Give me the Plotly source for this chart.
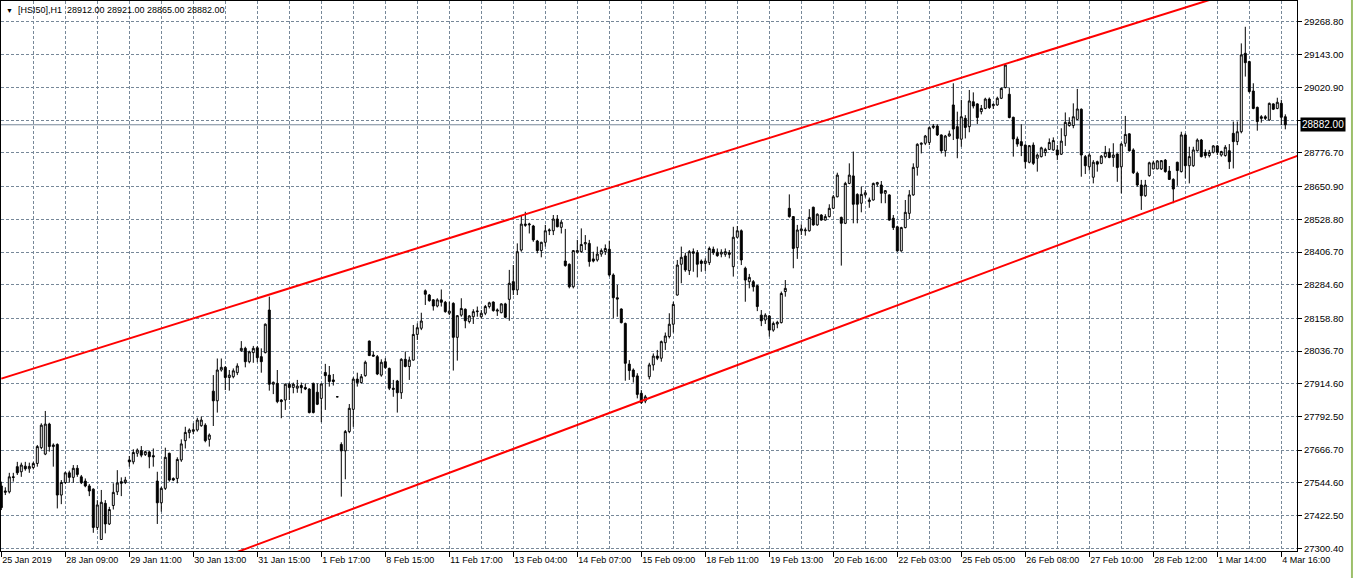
import plotly.graph_objects as go

# ---- data (bar index, OHLC) ----
open_ = [27533,27509,27511,27567,27605,27586,27607,27597,27602,27617,27676,27652,27764,27680,27688,27499,27546,27582,27565,27599,
27567,27551,27533,27521,27378,27333,27468,27391,27460,27511,27549,27546,27630,27623,27655,27665,27650,27660,27646,27551,
27470,27524,27655,27561,27561,27630,27702,27732,27737,27742,27758,27760,27707,27887,27851,27966,27976,27938,27941,27956,
28038,28047,27997,28031,28049,28016,28031,28190,27913,27916,27854,27854,27913,27901,27898,27908,27901,27895,27916,27883,
27860,27957,27947,27929,27866,27688,27664,27736,27819,27932,27919,27945,28074,28022,28016,27947,27997,27972,27898,27925,
27881,28006,27979,28003,28099,28122,28262,28246,28228,28205,28228,28219,28178,28215,28088,28171,28193,28147,28165,28184,
28165,28178,28203,28220,28186,28180,28213,28230,28296,28265,28414,28506,28508,28504,28448,28412,28443,28486,28486,28530,
28499,28373,28361,28277,28406,28408,28437,28439,28381,28377,28399,28408,28417,28321,28236,28194,28140,27988,27966,27944,
27879,27850,27941,27985,28018,28010,28068,28091,28137,28246,28361,28392,28337,28408,28404,28373,28364,28367,28417,28406,
28399,28398,28404,28352,28462,28486,28346,28296,28296,28281,28171,28153,28168,28115,28138,28143,28259,28570,28539,28423,
28486,28486,28486,28574,28508,28545,28526,28539,28570,28613,28536,28514,28663,28691,28622,28589,28620,28595,28601,28660,
28657,28626,28620,28533,28501,28411,28498,28551,28620,28723,28809,28813,28816,28872,28877,28844,28785,28840,28956,28875,
28828,28906,28875,28968,28960,28931,28943,28978,28953,28956,28981,29021,28996,28910,28829,28819,28806,28742,28806,28757,
28763,28778,28790,28788,28788,28772,28841,28879,28879,28902,28940,28763,28725,28686,28744,28738,28763,28779,28760,28773,
28725,28813,28848,28788,28701,28657,28617,28692,28717,28717,28717,28750,28709,28678,28742,28707,28844,28729,28729,28785,
28825,28779,28767,28779,28803,28769,28767,28785,28850,28819,28856,29149,29118,29008,28947,28912,28912,28900,28960,28943,
28962,28912]
high = [27549,27528,27582,27582,27623,27620,27623,27620,27623,27686,27767,27813,27769,27692,27692,27555,27586,27590,27611,27611,
27574,27561,27540,27524,27480,27518,27480,27455,27543,27592,27565,27567,27645,27670,27673,27682,27665,27665,27673,27586,
27530,27676,27657,27565,27640,27707,27754,27748,27767,27788,27792,27767,27729,27947,28009,28009,27981,27966,27972,27991,
28074,28053,28038,28056,28056,28047,28140,28240,27923,27966,27857,27916,27919,27919,27929,27919,27916,27898,27919,27916,
27916,27989,27981,27951,27868,27696,27742,27839,27939,27956,27951,28001,28076,28035,28022,28006,28010,27975,27929,27929,
28010,28035,28016,28134,28140,28180,28267,28250,28231,28234,28267,28224,28221,28219,28171,28234,28196,28171,28193,28203,
28190,28209,28221,28222,28196,28215,28217,28340,28358,28439,28545,28557,28516,28508,28452,28445,28508,28495,28545,28545,
28526,28493,28364,28414,28452,28495,28470,28452,28408,28427,28420,28435,28449,28327,28284,28196,28143,28003,27972,27954,
27891,27873,27993,28028,28041,28076,28106,28178,28221,28377,28427,28404,28414,28420,28414,28379,28383,28427,28427,28420,
28417,28420,28414,28501,28504,28491,28352,28325,28302,28284,28190,28178,28171,28147,28150,28259,28302,28622,28541,28508,
28510,28498,28567,28576,28551,28548,28548,28585,28620,28703,28539,28669,28738,28782,28626,28651,28638,28610,28666,28669,
28672,28638,28622,28545,28505,28501,28601,28638,28738,28813,28816,28844,28875,28885,28884,28846,28844,28860,29037,28931,
28975,28918,29012,29003,28962,28956,28983,28984,28962,28987,29021,29108,29021,28912,28838,28884,28809,28806,28816,28775,
28800,28796,28831,28835,28806,28869,28928,28910,28962,29016,28943,28769,28775,28750,28748,28769,28803,28794,28813,28775,
28815,28915,28850,28794,28707,28676,28676,28744,28748,28750,28750,28754,28728,28682,28744,28856,28850,28800,28800,28831,
28829,28790,28788,28806,28806,28785,28806,28810,28894,28894,29186,29248,29121,29037,28950,28918,28918,28965,28962,28983,
28975,28921]
low = [27443,27499,27505,27549,27574,27567,27590,27582,27595,27605,27670,27648,27661,27605,27449,27465,27540,27545,27545,27567,
27540,27528,27495,27358,27368,27333,27356,27387,27445,27499,27495,27540,27605,27614,27642,27640,27645,27599,27605,27391,
27437,27518,27549,27551,27543,27623,27673,27711,27726,27736,27754,27696,27680,27757,27807,27960,27891,27889,27935,27947,
28034,27976,27991,27993,27995,27956,28028,27889,27876,27842,27786,27817,27854,27879,27881,27879,27891,27804,27804,27835,
27771,27817,27904,27908,27864,27493,27558,27730,27754,27904,27916,27941,28018,28016,27947,27941,27971,27891,27866,27807,
27858,27976,27929,28001,28078,28115,28209,28221,28188,28200,28203,28180,28171,27964,28001,28165,28122,28140,28138,28165,
28158,28171,28196,28184,28168,28178,28159,28150,28246,28246,28408,28501,28476,28445,28402,28387,28427,28470,28470,28499,
28476,28352,28271,28271,28402,28404,28414,28352,28368,28371,28389,28396,28315,28159,28165,28140,27926,27929,27919,27860,
27839,27842,27931,27964,28003,27997,28041,28084,28106,28244,28290,28333,28321,28333,28312,28333,28336,28358,28396,28389,
28387,28389,28383,28315,28458,28358,28221,28271,28259,28186,28130,28138,28091,28109,28122,28140,28240,28535,28346,28381,
28470,28468,28483,28505,28505,28524,28524,28536,28567,28611,28356,28511,28660,28514,28514,28555,28610,28572,28599,28651,
28589,28589,28524,28489,28408,28408,28495,28530,28617,28692,28775,28806,28806,28866,28840,28775,28763,28838,28825,28757,
28800,28831,28854,28943,28885,28921,28940,28941,28941,28953,28978,29018,28906,28763,28800,28765,28719,28738,28732,28707,
28760,28765,28788,28785,28750,28769,28803,28875,28869,28900,28688,28698,28711,28663,28707,28735,28757,28757,28725,28669,
28626,28800,28782,28698,28651,28564,28613,28688,28716,28716,28713,28703,28676,28589,28654,28704,28682,28663,28725,28782,
28760,28757,28760,28775,28769,28763,28763,28717,28719,28806,28850,29062,29002,28940,28860,28890,28900,28897,28937,28940,
28881,28865]
close = [27452,27514,27567,27565,27582,27611,27597,27606,27617,27680,27760,27764,27680,27686,27499,27546,27582,27565,27599,27576,
27545,27533,27514,27378,27462,27472,27391,27445,27509,27544,27543,27555,27623,27658,27667,27648,27661,27642,27642,27470,
27524,27640,27555,27555,27632,27690,27733,27742,27743,27779,27779,27702,27723,27851,27966,27976,27938,27947,27963,27981,
28047,27997,28034,28047,28012,27997,28137,27913,27920,27848,27848,27913,27901,27913,27906,27900,27895,27807,27807,27838,
27914,27945,27923,27923,27866,27664,27736,27823,27932,27919,27941,27995,28020,28018,27951,27995,27975,27898,27894,27881,
28006,27979,28003,28099,28124,28149,28249,28225,28205,28228,28219,28184,28186,28088,28169,28196,28150,28168,28184,28186,
28178,28203,28217,28188,28190,28213,28163,28290,28265,28408,28511,28511,28511,28452,28412,28443,28486,28489,28530,28501,
28518,28356,28277,28412,28412,28435,28442,28371,28373,28399,28412,28420,28321,28236,28231,28143,27991,27964,27941,27875,
27844,27866,27985,28018,28010,28072,28093,28137,28211,28358,28387,28340,28408,28402,28361,28364,28373,28420,28404,28393,
28406,28408,28398,28462,28486,28377,28302,28312,28277,28203,28150,28171,28115,28140,28144,28252,28271,28539,28420,28489,
28493,28489,28536,28508,28548,28526,28539,28570,28613,28694,28514,28663,28694,28585,28585,28622,28628,28601,28663,28666,
28626,28636,28526,28498,28411,28498,28555,28620,28723,28809,28813,28840,28871,28877,28844,28785,28840,28848,28866,28831,
28912,28872,28971,28952,28909,28943,28978,28946,28958,28981,29018,29105,28909,28829,28810,28804,28744,28804,28738,28769,
28796,28790,28816,28823,28769,28821,28891,28891,28912,28941,28769,28729,28769,28742,28735,28765,28779,28760,28769,28722,
28810,28846,28785,28703,28657,28617,28657,28740,28740,28747,28748,28707,28678,28642,28711,28844,28729,28763,28788,28825,
28763,28767,28779,28803,28779,28782,28798,28744,28819,28856,29143,29114,29006,28943,28894,28906,28906,28962,28940,28966,
28910,28882]
bars = list(range(len(close)))

time_tick_bars = [0,16,32,48,64,80,96,112,128,144,160,176,192,208,224,240,256,272,288,304,320]
time_tick_labels = ["25 Jan 2019","28 Jan 09:00","29 Jan 11:00","30 Jan 13:00","31 Jan 15:00","1 Feb 17:00",
                    "8 Feb 15:00","11 Feb 17:00","13 Feb 04:00","14 Feb 07:00","15 Feb 09:00","18 Feb 11:00",
                    "19 Feb 13:00","20 Feb 16:00","22 Feb 03:00","25 Feb 05:00","26 Feb 08:00","27 Feb 10:00",
                    "28 Feb 12:00","1 Mar 14:00","4 Mar 16:00"]
price_ticks = [27300.40,27422.50,27544.60,27666.70,27792.50,27914.60,28036.70,28158.80,28284.60,
               28406.70,28528.80,28650.90,28776.70,28898.80,29020.90,29143.00,29268.80]

upper_channel_x = [0, 324]
upper_channel_y = [27934, 29451]
lower_channel_x = [55, 324]
lower_channel_y = [27264, 28766]

last_price = 28882.00
header = "[HSI50],H1  28912.00 28921.00 28865.00 28882.00"

GRID = "#778899"
FONT = "Liberation Sans, Arial, sans-serif"

fig = go.Figure()
fig.add_trace(go.Candlestick(
    x=bars, open=open_, high=high, low=low, close=close,
    increasing=dict(fillcolor="white", line=dict(color="black", width=1)),
    decreasing=dict(fillcolor="black", line=dict(color="black", width=1)),
    whiskerwidth=0, hoverinfo="skip", showlegend=False,
))

# channel lines
fig.add_shape(type="line", xref="x", yref="y", x0=upper_channel_x[0], y0=upper_channel_y[0],
              x1=upper_channel_x[1], y1=upper_channel_y[1], line=dict(color="#ff0000", width=2))
fig.add_shape(type="line", xref="x", yref="y", x0=lower_channel_x[0], y0=lower_channel_y[0],
              x1=lower_channel_x[1], y1=lower_channel_y[1], line=dict(color="#ff0000", width=2))
# current price line
fig.add_shape(type="line", xref="paper", yref="y", x0=0, x1=1, y0=last_price, y1=last_price,
              line=dict(color=GRID, width=1), layer="below")

fig.add_annotation(xref="paper", yref="y", x=1, y=last_price, xanchor="left", yanchor="middle",
                   xshift=3, text=f"{last_price:.2f}", showarrow=False, bgcolor="black",
                   font=dict(color="white", size=10, family=FONT), borderpad=1)
fig.add_annotation(xref="paper", yref="paper", x=0, y=1, xanchor="left", yanchor="top",
                   xshift=3, yshift=-2, showarrow=False,
                   text="<span style='font-size:7px'>▼</span>  " + header,
                   font=dict(color="black", size=9, family=FONT))

# window border on the right
fig.add_shape(type="line", xref="paper", yref="paper", x0=1.0424, x1=1.0424, y0=-0.06, y1=1.01,
              line=dict(color="#9cbf6a", width=2))

fig.update_layout(
    width=1354, height=578,
    margin=dict(l=1, r=57, t=1, b=27),
    paper_bgcolor="white", plot_bgcolor="white",
    font=dict(family=FONT, size=9, color="black"),
    xaxis=dict(
        range=[-0.075, 323.925], rangeslider=dict(visible=False),
        tickmode="array", tickvals=time_tick_bars, ticktext=time_tick_labels,
        tickangle=0, ticks="outside", ticklen=5, tickcolor="black", ticklabelposition="outside right",
        showgrid=True, gridcolor=GRID, griddash="3px,2px", gridwidth=1,
        minor=dict(dtick=8, tick0=0, showgrid=True, gridcolor=GRID, griddash="3px,2px", ticks=""),
        showline=True, linecolor="black", linewidth=1, mirror=True, zeroline=False,
        tickfont=dict(size=9, family=FONT),
    ),
    yaxis=dict(
        range=[27290.0, 29344.3], side="right",
        tickmode="array", tickvals=price_ticks, ticktext=[f"{v:.2f}" for v in price_ticks],
        ticks="outside", ticklen=4, tickcolor="black",
        showgrid=True, gridcolor=GRID, griddash="3px,2px", gridwidth=1,
        showline=True, linecolor="black", linewidth=1, mirror=True, zeroline=False,
        tickfont=dict(size=9.5, family=FONT),
    ),
    boxgap=0.3,
)

fig.write_html("out.html", config={"displayModeBar": False},
               post_script="document.body.style.margin='0';")
